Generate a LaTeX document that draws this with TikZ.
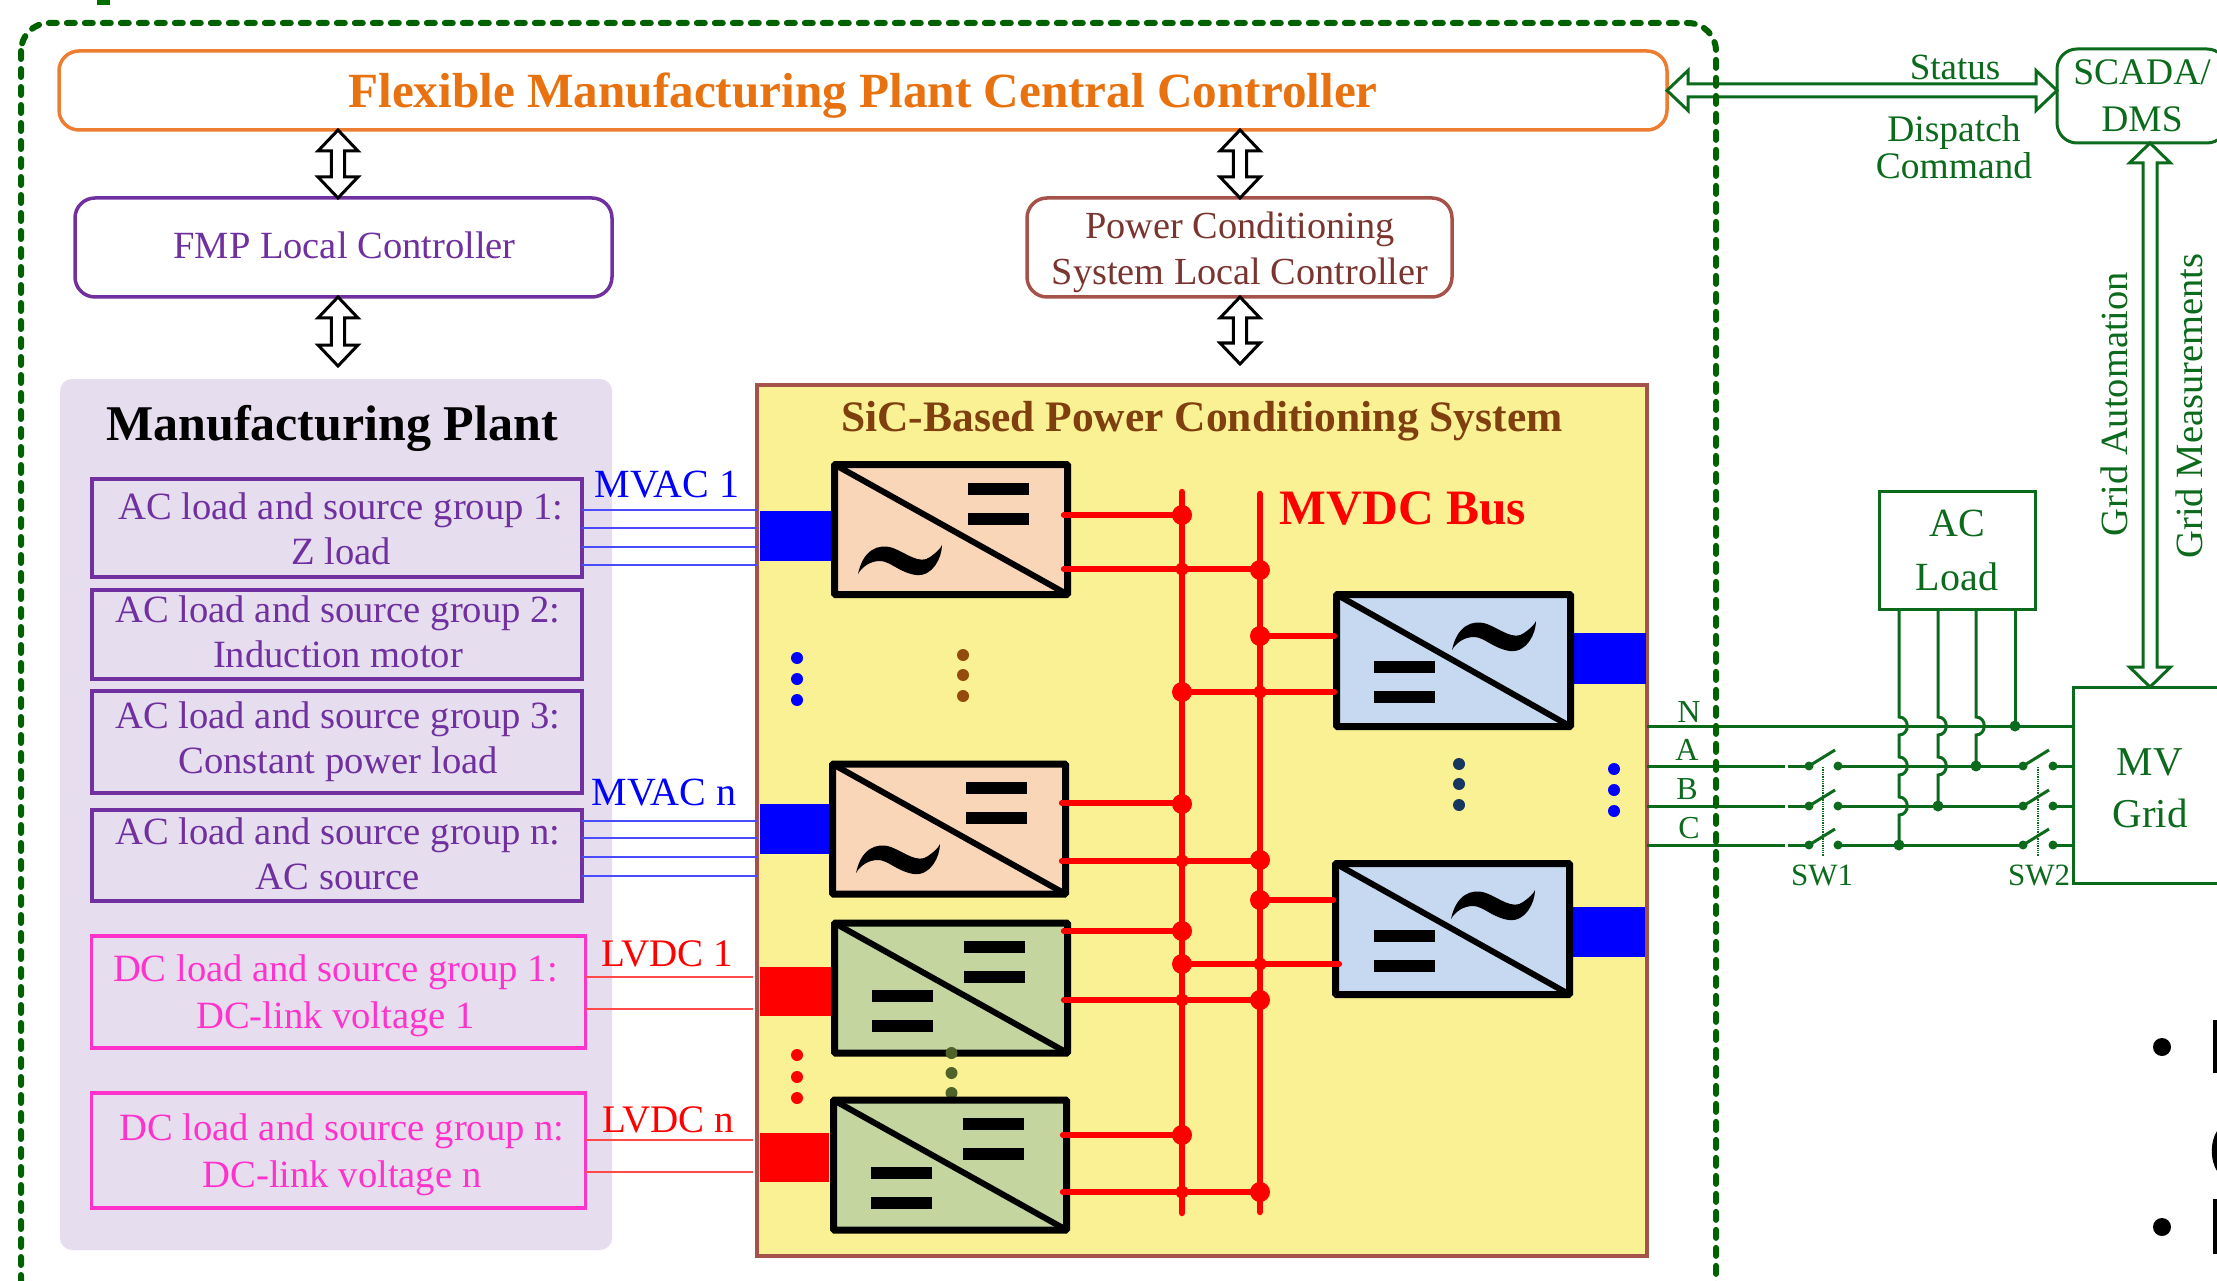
\documentclass[tikz,border=0pt]{standalone}
\usepackage{fontspec}
\setmainfont{Liberation Serif}
\usetikzlibrary{calc}
\definecolor{gridgreen}{HTML}{0B6A1C}
\definecolor{dashgreen}{HTML}{006100}
\definecolor{fmporange}{HTML}{ED7D31}
\definecolor{fmporangetext}{HTML}{E8720F}
\definecolor{fmppurple}{HTML}{7030A0}
\definecolor{plantbg}{HTML}{E6DDEE}
\definecolor{fmppink}{HTML}{FF33CC}
\definecolor{pcsbrown}{HTML}{A5524A}
\definecolor{pcstext}{HTML}{7A3530}
\definecolor{sictext}{HTML}{7F3F0F}
\definecolor{pcsyellow}{HTML}{F9F194}
\definecolor{peach}{HTML}{FAD6B9}
\definecolor{olivefill}{HTML}{C4D5A0}
\definecolor{paleblue}{HTML}{C6D9F0}
\definecolor{mvacline}{HTML}{4A4AFF}
\definecolor{lvdcline}{HTML}{FF4A4A}
\definecolor{dotbrown}{HTML}{964B0E}
\definecolor{dotolive}{HTML}{4F6228}
\definecolor{dotnavy}{HTML}{17375E}
\newcommand\hollowV[6]{%
  \draw[#6] let \p1=(#1),\p2=(#2) in
    (\x1,\y1) -- ({\x1+#4pt},{\y1-#5pt}) -- ({\x1+#3pt},{\y1-#5pt}) --
    ({\x1+#3pt},{\y2+#5pt}) -- ({\x1+#4pt},{\y2+#5pt}) -- (\x1,\y2) --
    ({\x1-#4pt},{\y2+#5pt}) -- ({\x1-#3pt},{\y2+#5pt}) --
    ({\x1-#3pt},{\y1-#5pt}) -- ({\x1-#4pt},{\y1-#5pt}) -- cycle;}
\newcommand\hollowH[6]{%
  \draw[#6] let \p1=(#1),\p2=(#2) in
    (\x1,\y1) -- ({\x1+#5pt},{\y1+#4pt}) -- ({\x1+#5pt},{\y1+#3pt}) --
    ({\x2-#5pt},{\y1+#3pt}) -- ({\x2-#5pt},{\y1+#4pt}) -- (\x2,\y1) --
    ({\x2-#5pt},{\y1-#4pt}) -- ({\x2-#5pt},{\y1-#3pt}) --
    ({\x1+#5pt},{\y1-#3pt}) -- ({\x1+#5pt},{\y1-#4pt}) -- cycle;}
\newcommand\barpair[3]{%
  \fill[black] (#1,#2-0.5) rectangle ++(61,12);
  \fill[black] (#1,#3-0.5) rectangle ++(61,12);}
\newcommand\wave[2]{%
  \fill[black,shift={(#1,#2)}] (0,29) .. controls (5,5) and (20,-2) .. (35,3)
    .. controls (48,8) and (62,20) .. (72,12) .. controls (78,8) and (83,3) .. (84,0)
    .. controls (84,12) and (75,32) .. (58,30) .. controls (42,28) and (32,16) .. (22,16)
    .. controls (12,16) and (4,22) .. (0,29) -- cycle;}
\newcommand\tridots[5]{%
  \fill[#5] (#1,#2) circle[radius=6pt] (#1,#3) circle[radius=6pt] (#1,#4) circle[radius=6pt];}
\newcommand\knife[3]{%
  \fill[gridgreen] (#1,#3) circle[radius=4.5pt] (#2,#3) circle[radius=4.5pt];
  \draw[wire] (#1,#3) -- ++(26,-16);}
\newcommand\hop[2]{-- (#1,#2-9) .. controls (#1+11,#2-9) and (#1+11,#2+9) .. (#1,#2+9)}
\tikzset{
  x=1pt,y=-1pt,
  every node/.style={outer sep=0pt,inner sep=0pt},
  ctrlbox/.style={draw,rounded corners=20pt,line width=3.5pt,fill=white,align=center},
  loadbox/.style={draw=fmppurple,line width=4pt,minimum width=490pt},
  dcbox/.style={draw=fmppink,line width=3.6pt,minimum width=494pt},
  loadtxt/.style={text=fmppurple,align=center,font=\fontsize{38.6}{45}\selectfont},
  dctxt/.style={text=fmppink,align=center,font=\fontsize{38.6}{47}\selectfont},
  conv/.style={draw=black,line width=7pt,minimum width=233pt,minimum height=130pt,rounded corners=1pt},
  diag/.style={draw=black,line width=6pt,shorten <=3pt,shorten >=3pt},
  mvacw/.style={draw=mvacline,line width=2.6pt},
  lvdcw/.style={draw=lvdcline,line width=2.6pt},
  busbar/.style={draw=red,line width=6.5pt,line cap=round},
  feeder/.style={draw=red,line width=5.2pt,line cap=round},
  wire/.style={draw=gridgreen,line width=3pt},
  gtxt/.style={text=gridgreen,align=center},
  hollowblack/.style={draw=black,line width=3pt,fill=white,line join=miter},
  hollowgreen/.style={draw=gridgreen,line width=3pt,line join=miter},
}
\begin{document}
\begin{tikzpicture}
\useasboundingbox (0,0) rectangle (2217,1281);
\clip (0,0) rectangle (2217,1281);
\fill[white] (0,0) rectangle (2217,1281);
\fill[dashgreen!90!green] (97,0) rectangle (110,5);

% controllers
\node[ctrlbox,draw=fmporange,text=fmporangetext,minimum width=1608pt,minimum height=79pt,text depth=0pt,
      font=\bfseries\fontsize{49.2}{58}\selectfont] (cc) at (863,90.5) {Flexible Manufacturing Plant Central Controller};
\node[ctrlbox,draw=fmppurple,minimum width=537pt,minimum height=99pt] (fmp) at (343.5,247.5) {};
\node[text=fmppurple,font=\fontsize{38.5}{46}\selectfont] (fmpt) at (344.5,245.5) {FMP Local Controller};
\node[ctrlbox,draw=pcsbrown,minimum width=425pt,minimum height=99pt] (pcslc) at (1239.5,247.5) {};
\node[text=pcstext,align=center,font=\fontsize{38.3}{46}\selectfont] (pcslct) at (1240,252) {Power Conditioning\\System Local Controller};

% manufacturing plant
\node[fill=plantbg,rounded corners=12pt,minimum width=552pt,minimum height=871pt] (plant) at (336,814.5) {};
\node[font=\bfseries\fontsize{50}{56}\selectfont,text=black] (plantt) at (332,428) {Manufacturing Plant};
\node[loadbox,minimum height=98pt] (g1) at (336.5,528) {};
\node[loadbox,minimum height=89pt] (g2) at (336.5,634.5) {};
\node[loadbox,minimum height=102pt] (g3) at (336.5,742) {};
\node[loadbox,minimum height=91pt] (g4) at (336.5,855.5) {};
\node[dcbox,minimum height=112pt] (d1) at (338.5,992) {};
\node[dcbox,minimum height=115pt] (d2) at (338.5,1150.5) {};
\node[loadtxt] (g1t) at (341,528.5) {AC load and source group 1:\\Z load};
\node[loadtxt] (g2t) at (338,632) {AC load and source group 2:\\Induction motor};
\node[loadtxt] (g3t) at (338,742) {AC load and source group 3:\\Constant power load};
\node[loadtxt] (g4t) at (338,853.5) {AC load and source group n:\\AC source};
\node[dctxt] (d1t) at (335.5,995.5) {DC load and source group 1:\\DC-link voltage 1};
\node[dctxt] (d2t) at (342,1154.5) {DC load and source group n:\\DC-link voltage n};

% power conditioning system
\node[draw=pcsbrown,fill=pcsyellow,line width=3.5pt,minimum width=890pt,minimum height=871pt] (psys) at (1202,820.5) {};
\node[text=sictext,font=\bfseries\fontsize{43.5}{50}\selectfont] (psyst) at (1202,421) {SiC-Based Power Conditioning System};
\node[text=red,font=\bfseries\fontsize{49.5}{56}\selectfont] (mvdc) at (1403,508) {MVDC Bus};

% terminal blocks
\fill[blue] (760,511) rectangle (831,561);
\fill[blue] (760,804) rectangle (829,854);
\fill[red] (760,967) rectangle (831,1016);
\fill[red] (760,1133) rectangle (829,1182);
\fill[blue] (1574,633) rectangle (1646,684);
\fill[blue] (1571,907) rectangle (1645,957);

% port lines
\foreach \yy in {510,528,547,565} \draw[mvacw] (g1.east |- 0,\yy) -- (psys.west |- 0,\yy);
\foreach \yy in {821,838,857,876} \draw[mvacw] (g4.east |- 0,\yy) -- (psys.west |- 0,\yy);
\foreach \yy in {977,1009} \draw[lvdcw] (d1.east |- 0,\yy) -- ([xshift=-4pt]psys.west |- 0,\yy);
\foreach \yy in {1140,1172} \draw[lvdcw] (d2.east |- 0,\yy) -- ([xshift=-4pt]psys.west |- 0,\yy);
\node[text=blue,font=\fontsize{40}{44}\selectfont] (mvac1) at (667,485) {MVAC 1};
\node[text=blue,font=\fontsize{40}{44}\selectfont] (mvacn) at (664,793) {MVAC n};
\node[text=red,font=\fontsize{39}{44}\selectfont] (lvdc1) at (667,954) {LVDC 1};
\node[text=red,font=\fontsize{39}{44}\selectfont] (lvdcn) at (668,1120) {LVDC n};

% converters
\node[conv,fill=peach] (c1) at (951,529.5) {};
\draw[diag] (c1.north west) -- (c1.south east);
\barpair{968}{483}{513}\wave{858}{545}
\node[conv,fill=peach] (cn) at (949,829) {};
\draw[diag] (cn.north west) -- (cn.south east);
\barpair{966}{782}{812}\wave{856}{844}
\node[conv,fill=olivefill] (dc1) at (951,988) {};
\draw[diag] (dc1.north west) -- (dc1.south east);
\barpair{964}{941}{971}\barpair{872}{990}{1020}
\tridots{951.5}{1053}{1073}{1093}{dotolive}
\node[conv,fill=olivefill] (dcn) at (950,1165) {};
\draw[diag] (dcn.north west) -- (dcn.south east);
\barpair{963}{1118}{1148}\barpair{871}{1167}{1197}
\node[conv,fill=paleblue,minimum width=234pt,minimum height=132pt] (r1) at (1453.5,660.5) {};
\draw[diag] (r1.north west) -- (r1.south east);
\barpair{1374}{661}{691}\wave{1452}{621}
\node[conv,fill=paleblue,minimum width=234pt,minimum height=131pt] (r2) at (1452.5,929) {};
\draw[diag] (r2.north west) -- (r2.south east);
\barpair{1374}{930}{960}\wave{1451}{890}

% ellipsis dots
\tridots{797}{658}{679}{700}{blue}
\tridots{963}{655}{675}{696}{dotbrown}
\tridots{797}{1055}{1077}{1098}{red}
\tridots{1459}{764}{784}{805}{dotnavy}
\tridots{1614}{769}{790}{811}{blue}

% MVDC bus
\coordinate (b1t) at (1182,492); \coordinate (b1b) at (1182,1213);
\coordinate (b2t) at (1260,494); \coordinate (b2b) at (1260,1212);
\draw[busbar] (b1t) -- (b1b);
\draw[busbar] (b2t) -- (b2b);
\foreach \nd/\yy/\bb in {c1/515/b1t,c1/569/b2t,cn/803/b1t,cn/861/b2t,dc1/931/b1t,dc1/1000/b2t,dcn/1135/b1t,dcn/1192/b2t}
  \draw[feeder] ([xshift=-4pt]\nd.east |- 0,\yy) -- (\bb |- 0,\yy);
\foreach \nd/\yy/\bb/\sh in {r1/636/b2t/-2,r1/692/b1t/-2,r2/900/b2t/-2,r2/964/b1t/4}
  \draw[feeder] (\bb |- 0,\yy) -- ([xshift=\sh pt]\nd.west |- 0,\yy);
\foreach \bb/\yy in {b1t/515,b2t/570,b2t/636,b1t/692,b1t/804,b2t/860,b2t/900,b1t/931,b1t/964,b2t/1000,b1t/1135,b2t/1192}
  \fill[red] (\bb |- 0,\yy) circle[radius=10pt];
\foreach \bb/\yy in {b1t/569,b2t/692,b1t/861,b2t/964,b1t/1000,b1t/1192}
  \fill[red] (\bb |- 0,\yy) circle[radius=6.5pt];

% control arrows
\coordinate (ax1) at (338,0); \coordinate (ax2) at (1240,0); \coordinate (ax3) at (2150,0);
\coordinate (fmpout) at (338,366); \coordinate (pcsout) at (1240,364);
\hollowV{cc.south -| ax1}{fmp.north -| ax1}{6.7}{20}{21}{hollowblack}
\hollowV{fmp.south -| ax1}{fmpout}{6.7}{20}{21}{hollowblack}
\hollowV{cc.south -| ax2}{pcslc.north -| ax2}{6.7}{20}{21}{hollowblack}
\hollowV{pcslc.south -| ax2}{pcsout}{6.7}{20}{21}{hollowblack}

% grid side
\node[gtxt,draw=gridgreen,line width=3pt,rounded corners=20pt,minimum width=170pt,minimum height=94pt,
      font=\fontsize{37.5}{47}\selectfont] (scada) at (2142,96) {SCADA/\\DMS};
\node[gtxt,draw=gridgreen,line width=3pt,minimum width=154pt,minimum height=196pt] (mv) at (2150,785) {};
\node[gtxt,font=\fontsize{41}{52}\selectfont] (mvt) at (2150,788) {MV\\Grid};
\node[gtxt,draw=gridgreen,line width=3pt,minimum width=156pt,minimum height=118pt,
      font=\fontsize{40}{54}\selectfont] (acl) at (1957,550) {AC\\Load};
\hollowH{cc.east}{scada.west |- cc.east}{6.5}{20}{21}{hollowgreen}
\hollowV{scada.south -| ax3}{mv.north -| ax3}{7}{20.5}{20}{hollowgreen}
\node[gtxt,font=\fontsize{37}{40}\selectfont] (status) at (1955,67) {Status};
\node[gtxt,font=\fontsize{37.5}{37}\selectfont] (dispatch) at (1954,147) {Dispatch\\Command};
\node[gtxt,rotate=90,font=\fontsize{38.5}{40}\selectfont] (gauto) at (2114,404) {Grid Automation};
\node[gtxt,rotate=90,font=\fontsize{38.5}{40}\selectfont] (gmeas) at (2189,406) {Grid Measurements};

% three-phase lines
\coordinate (pN) at (1647,726); \coordinate (pA) at (1647,766);
\coordinate (pB) at (1647,806); \coordinate (pC) at (1647,845);
\draw[wire] (pN) -- (mv.west |- pN);
\foreach \pp in {pA,pB,pC} {
  \draw[wire] (\pp) -- (1785,0 |- \pp);
  \draw[wire] (1788,0 |- \pp) -- (1809,0 |- \pp);
  \draw[wire] (1838,0 |- \pp) -- (2023,0 |- \pp);
  \draw[wire] (2053,0 |- \pp) -- (mv.west |- \pp);
}
\foreach \yy in {766,806,845} {\knife{1809}{1838}{\yy}\knife{2023}{2053}{\yy}}
\draw[draw=gridgreen,line width=1.3pt,densely dotted] (1823,767) -- (1823,856);
\draw[draw=gridgreen,line width=1.3pt,densely dotted] (2038,767) -- (2038,856);
\coordinate (l1) at (1899,609); \coordinate (l2) at (1938,609);
\coordinate (l3) at (1976,609); \coordinate (l4) at (2015,609);
\draw[wire] (l1) \hop{1899}{726} \hop{1899}{766} \hop{1899}{806} -- (l1 |- pC);
\draw[wire] (l2) \hop{1938}{726} \hop{1938}{766} -- (l2 |- pB);
\draw[wire] (l3) \hop{1976}{726} -- (l3 |- pA);
\draw[wire] (l4) -- (l4 |- pN);
\fill[gridgreen] (l1 |- pC) circle[radius=5.5pt] (l2 |- pB) circle[radius=5.5pt]
  (l3 |- pA) circle[radius=5.5pt] (l4 |- pN) circle[radius=5.5pt];
\node[gtxt,font=\fontsize{32}{36}\selectfont] (lN) at (1689,712) {N};
\node[gtxt,font=\fontsize{32}{36}\selectfont] (lA) at (1687,750) {A};
\node[gtxt,font=\fontsize{32}{36}\selectfont] (lB) at (1687,789) {B};
\node[gtxt,font=\fontsize{32}{36}\selectfont] (lC) at (1689,828) {C};
\node[gtxt,font=\fontsize{31}{36}\selectfont] (sw1) at (1822,875) {SW1};
\node[gtxt,font=\fontsize{31}{36}\selectfont] (sw2) at (2039,875) {SW2};

% FMP boundary
\draw[dashgreen,line width=6pt,line cap=round,dash pattern=on 8pt off 10pt,rounded corners=28pt] (21,23) rectangle (1716,1312);

% bullets and cropped marks at the picture edge
\fill[black] (2162,1047) circle[radius=9pt] (2162,1227) circle[radius=9pt];
\fill[black] (2213,1020) rectangle (2217,1073);
\fill[black] (2217,1131) .. controls (2210,1142) and (2210,1160) .. (2217,1171) -- cycle;
\fill[black] (2213,1199) rectangle (2217,1254);
\end{tikzpicture}
\end{document}
